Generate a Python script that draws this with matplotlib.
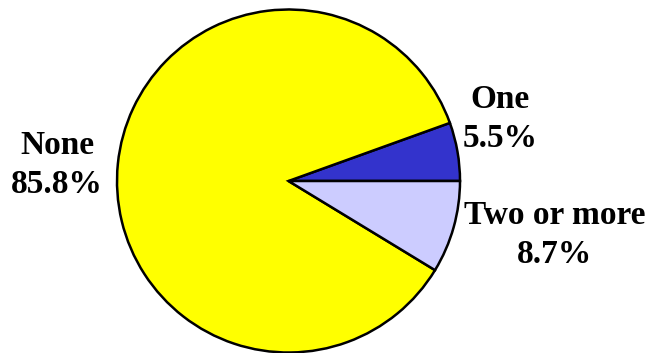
import matplotlib.pyplot as plt

# Slice data (counter-clockwise from 3 o'clock)
labels = ["One", "None", "Two or more"]
values = [5.5, 85.8, 8.7]
colors = ["#3333CC", "#FFFF00", "#CCCCFF"]

W, H = 645, 353

fig = plt.figure(figsize=(W / 100, H / 100), dpi=100)
ax = fig.add_axes([0, 0, 1, 1])

ax.pie(
    values,
    colors=colors,
    startangle=0,
    counterclock=True,
    center=(288.5, H - 181),
    radius=171.5,
    wedgeprops=dict(edgecolor="black", linewidth=1.8),
    frame=True,
)
ax.set_xlim(0, W)
ax.set_ylim(0, H)
ax.set_aspect("equal")
ax.axis("off")

# Label positions (pixel coords, y from top)
label_pos = [(500, 119), (57, 165), (555, 235)]
for lab, val, (x, y) in zip(labels, values, label_pos):
    ax.text(
        x, H - y, f"{lab}\n{val}%",
        ha="center", va="center",
        fontsize=24, fontweight="bold", family="Liberation Serif",
        linespacing=1.3,
    )

fig.savefig("out.png", dpi=100)
